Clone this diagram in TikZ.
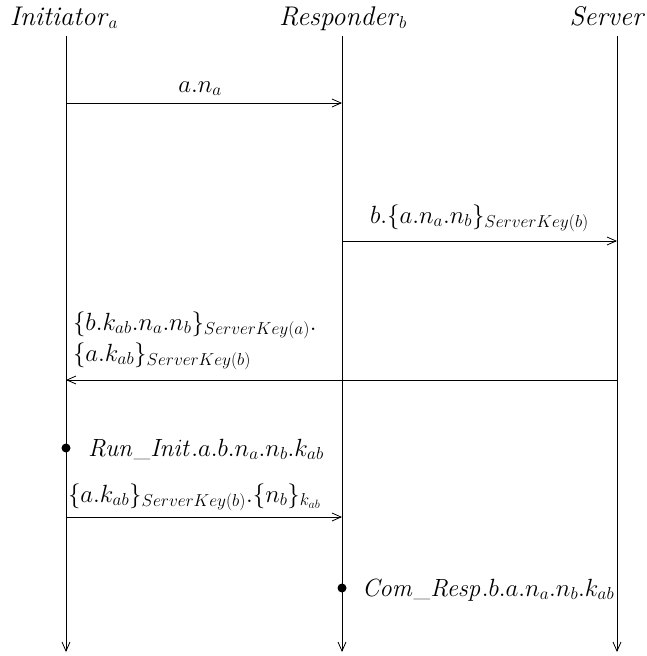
\documentclass[tikz,border=0pt]{standalone}
\usetikzlibrary{arrows.meta}
\begin{document}
\begin{tikzpicture}[x=1pt,y=-1pt,
  every node/.style={inner sep=0pt,outer sep=0pt,font=\fontsize{24}{28}\selectfont},
  head/.style={anchor=base,font=\fontsize{27}{32}\selectfont},
  lifeline/.style={line width=0.8pt,-{Straight Barb[length=9pt,width=8pt]}},
  msg/.style={line width=0.8pt,-{Straight Barb[length=9pt,width=8pt]}},
  lbl/.style={anchor=base west},
  event/.style={circle,fill=black,minimum size=9pt,inner sep=0pt}]
\useasboundingbox (0,0) rectangle (647,656);
% heads
\node[head] (I) at (64,25) {\textit{Initiator}$_a$};
\node[head] (R) at (343,25) {\textit{Responder}$_b$};
\node[head,anchor=base east] (S) at (645,25) {\textit{Server}};
% lifeline coordinates
\coordinate (It) at (66,36);  \coordinate (Ib) at (66,652);
\coordinate (Rt) at (342,36); \coordinate (Rb) at (342,652);
\coordinate (St) at (617,36); \coordinate (Sb) at (617,652);
\draw[lifeline] (It) -- (Ib);
\draw[lifeline] (Rt) -- (Rb);
\draw[lifeline] (St) -- (Sb);
% message points
\coordinate (I1) at (66,103);  \coordinate (R1) at (342,103);
\coordinate (R2) at (342,241); \coordinate (S2) at (617,241);
\coordinate (S3) at (617,380); \coordinate (I3) at (66,380);
\coordinate (I5) at (66,517);  \coordinate (R5) at (342,517);
\draw[msg] (I1) -- (R1);
\draw[msg] (R2) -- (S2);
\draw[msg] (S3) -- (I3);
\draw[msg] (I5) -- (R5);
% labels
\node[anchor=base] (m1) at (200,92) {$a.n_a$};
\node[lbl] (m2) at (370,223) {$b.\{a.n_a.n_b\}_{ServerKey(b)}$};
\node[lbl] (m3a) at (73,330) {$\{b.k_{ab}.n_a.n_b\}_{ServerKey(a)}.$};
\node[lbl] (m3b) at (73,361) {$\{a.k_{ab}\}_{ServerKey(b)}$};
\node[lbl] (m5) at (68,502) {$\{a.k_{ab}\}_{ServerKey(b)}.\{n_b\}_{k_{ab}}$};
% events
\node[event] (e1) at (66,448) {};
\node[lbl] (e1t) at (88,456) {$\mathit{Run\_Init}.a.b.n_a.n_b.k_{ab}$};
\node[event] (e2) at (342,588) {};
\node[lbl] (e2t) at (362,596) {$\mathit{Com\_Resp}.b.a.n_a.n_b.k_{ab}$};
\end{tikzpicture}
\end{document}
